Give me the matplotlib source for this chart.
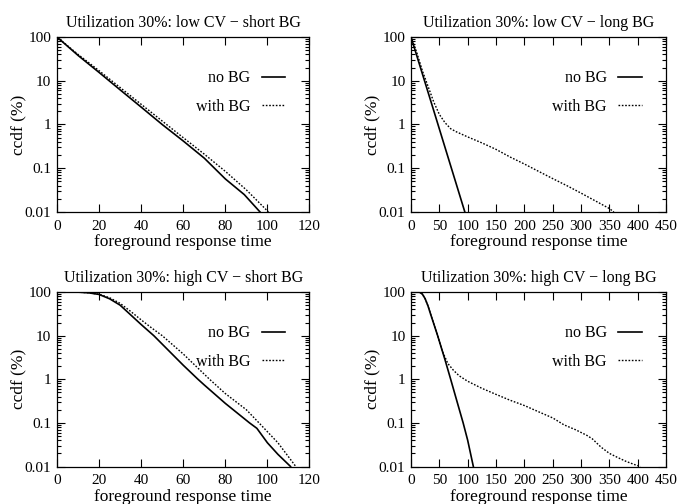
import numpy as np
import matplotlib
matplotlib.use("Agg")
import matplotlib.pyplot as plt
from matplotlib.ticker import FixedLocator, LogLocator, NullFormatter, NullLocator

plt.rcParams['font.family'] = ['Liberation Serif', 'DejaVu Serif']
plt.rcParams['font.size'] = 11

# panel 1: low CV - short BG
p1_x_nobg = [0, 10, 20, 30, 40, 50, 60, 70, 80, 89, 96.5]
p1_y_nobg = [100, 38, 15.5, 6.2, 2.5, 1.0, 0.42, 0.17, 0.057, 0.025, 0.01]
p1_x_bg = [0, 10, 20, 30, 40, 50, 60, 70, 80, 90, 100.5]
p1_y_bg = [100, 40, 17, 7, 2.9, 1.2, 0.5, 0.21, 0.085, 0.032, 0.01]

# panel 2: low CV - long BG
p2_x_nobg = [0, 20, 40, 60, 80, 95]
p2_y_nobg = [100, 14.5, 2.1, 0.3, 0.043, 0.01]
p2_x_bg = [0, 10, 20, 30, 40, 50, 60, 70, 80, 100, 125, 150, 175, 200, 225,
           250, 275, 300, 325, 350, 358]
p2_y_bg = [100, 45, 17, 7.5, 3.3, 1.7, 1.1, 0.8, 0.68, 0.52, 0.38, 0.27, 0.18,
           0.125, 0.085, 0.058, 0.04, 0.027, 0.018, 0.012, 0.01]

# panel 3: high CV - short BG
p3_x_nobg = [0, 10, 15, 20, 25, 30, 35, 40, 46, 50, 60, 67, 70, 80, 91.5, 95,
             100, 105, 111]
p3_y_nobg = [100, 99.5, 96, 88, 70, 50, 30, 18, 10, 6.4, 2.1, 1.0, 0.74, 0.28,
             0.1, 0.075, 0.035, 0.019, 0.01]
p3_x_bg = [0, 10, 15, 20, 25, 30, 35, 40, 45, 50, 60, 72.5, 80, 90, 96, 105,
           113.5]
p3_y_bg = [100, 99.5, 96, 89, 74, 55, 36, 23, 15, 10, 3.8, 1.0, 0.47, 0.2, 0.1,
           0.035, 0.01]

# panel 4: high CV - long BG
p4_x_nobg = [0, 10, 15, 20, 25, 30, 35, 40, 47, 60, 70, 80, 92, 100, 110]
p4_y_nobg = [100, 100, 99, 90, 70, 48, 30, 19, 10, 2.8, 1.0, 0.35, 0.1, 0.04,
             0.01]
p4_x_bg = [0, 10, 15, 20, 25, 30, 35, 40, 47, 55, 65, 75, 85, 100, 125, 150,
           175, 200, 225, 250, 270, 290, 310, 320, 335, 350, 365, 380, 395, 405]
p4_y_bg = [100, 100, 99, 90, 70, 48, 30, 19, 10, 4.5, 2.3, 1.6, 1.2, 0.9, 0.62,
           0.45, 0.33, 0.25, 0.18, 0.13, 0.09, 0.07, 0.052, 0.043, 0.028, 0.02,
           0.016, 0.013, 0.011, 0.01]

titles = ["Utilization 30%: low CV \u2212 short BG",
          "Utilization 30%: low CV \u2212 long BG",
          "Utilization 30%: high CV \u2212 short BG",
          "Utilization 30%: high CV \u2212 long BG"]
yticks = [0.01, 0.1, 1, 10, 100]
ytick_labels = ["0.01", "0.1", "1", "10", "100"]
xticks_short = [0, 20, 40, 60, 80, 100, 120]
xticks_long = [0, 50, 100, 150, 200, 250, 300, 350, 400, 450]

fig = plt.figure(figsize=(6.79, 5.04), dpi=100)
positions = [[0.0839, 0.5794, 0.3719, 0.3472],
             [0.6053, 0.5794, 0.3756, 0.3472],
             [0.0839, 0.0744, 0.3719, 0.3462],
             [0.6053, 0.0744, 0.3756, 0.3462]]
series = [(p1_x_nobg, p1_y_nobg, p1_x_bg, p1_y_bg, xticks_short),
          (p2_x_nobg, p2_y_nobg, p2_x_bg, p2_y_bg, xticks_long),
          (p3_x_nobg, p3_y_nobg, p3_x_bg, p3_y_bg, xticks_short),
          (p4_x_nobg, p4_y_nobg, p4_x_bg, p4_y_bg, xticks_long)]

for i in range(4):
    xn, yn, xb, yb, xt = series[i]
    ax = fig.add_axes(positions[i])
    ax.plot(xn, yn, color='black', lw=1.2, label='no BG')
    ax.plot(xb, yb, color='black', lw=1.0, ls=(0, (1.2, 1.2)), label='with BG')
    ax.set_yscale('log')
    ax.set_ylim(0.01, 100)
    ax.set_xlim(xt[0], xt[-1])
    ax.xaxis.set_major_locator(FixedLocator(xt))
    ax.xaxis.set_minor_locator(NullLocator())
    ax.set_xticklabels([str(v) for v in xt])
    ax.yaxis.set_major_locator(FixedLocator(yticks))
    ax.set_yticklabels(ytick_labels)
    ax.yaxis.set_minor_locator(LogLocator(base=10, subs=np.arange(2, 10)))
    ax.yaxis.set_minor_formatter(NullFormatter())
    ax.tick_params(which='both', direction='in', top=True, right=True,
                   width=0.8, labelsize=11)
    ax.tick_params(which='major', length=5.5)
    ax.tick_params(axis='x', which='major', pad=5.5)
    ax.tick_params(axis='y', which='major', pad=4)
    ax.tick_params(which='minor', length=2.8)
    for s in ax.spines.values():
        s.set_linewidth(0.9)
    ax.set_title(titles[i], fontsize=11.5, pad=7)
    ax.set_xlabel("foreground response time", fontsize=12.5, labelpad=1)
    ax.set_ylabel("ccdf (%)", fontsize=12.5, labelpad=-1)
    ax.legend(loc='upper right', bbox_to_anchor=(0.905, 0.81), frameon=False,
              markerfirst=False, handlelength=1.5, handletextpad=0.7,
              borderpad=0, borderaxespad=0, labelspacing=0.8, fontsize=11.5)

fig.savefig("out.png", dpi=100)
